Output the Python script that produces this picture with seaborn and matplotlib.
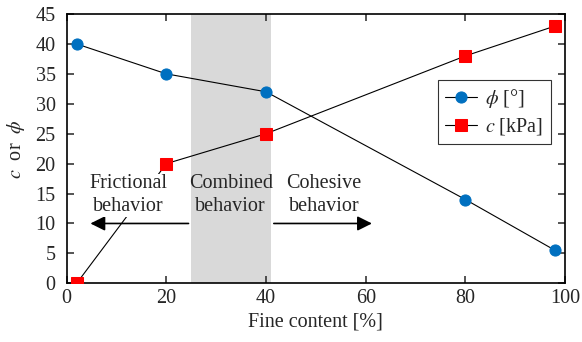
import matplotlib
matplotlib.use("Agg")
import matplotlib.pyplot as plt
import seaborn as sns
import pandas as pd

fine_content = [2, 20, 40, 80, 98]
phi_values = [40, 35, 32, 14, 5.5]
c_values = [0, 20, 25, 38, 43]
x_ticks = [0, 20, 40, 60, 80, 100]
y_ticks = [0, 5, 10, 15, 20, 25, 30, 35, 40, 45]
combined_range = [25, 41]

sns.set_style("ticks")
plt.rcParams['font.family'] = ['Liberation Serif', 'DejaVu Serif']
plt.rcParams['mathtext.fontset'] = 'stix'
plt.rcParams['font.size'] = 14.5

df = pd.DataFrame({"x": fine_content, "phi": phi_values, "c": c_values})

fig = plt.figure(figsize=(5.82, 3.42), dpi=100)
ax = fig.add_axes([0.1146, 0.1716, 0.971 - 0.1146, 0.959 - 0.1716])

ax.axvspan(combined_range[0], combined_range[1], color='#d9d9d9', lw=0, zorder=0)

sns.lineplot(data=df, x="x", y="phi", ax=ax, color='black', lw=0.8,
             marker='o', markersize=8, markerfacecolor='#0070C0', markeredgecolor='#0070C0',
             label=r'$\phi$ [°]', zorder=3)
sns.lineplot(data=df, x="x", y="c", ax=ax, color='black', lw=0.8,
             marker='s', markersize=8.5, markerfacecolor='#FF0000', markeredgecolor='#FF0000',
             label=r'$c$ [kPa]', zorder=3)

ax.set_xlim(0, 100)
ax.set_ylim(0, 45)
ax.set_xticks(x_ticks)
ax.set_yticks(y_ticks)
ax.tick_params(direction='in', top=True, right=True, length=5, width=1.1, labelsize=14.5)
ax.tick_params(axis='x', pad=4)
ax.tick_params(axis='y', pad=8)
for s in ax.spines.values():
    s.set_linewidth(1.2)
    s.set_color('black')
    s.set_visible(True)

ax.set_xlabel("Fine content [%]", fontsize=14.5, labelpad=3)
ax.set_ylabel(r"$c$  or  $\phi$", fontsize=14.5, labelpad=6)

ax.annotate("", xy=(4.2, 10), xytext=(combined_range[0], 10),
            arrowprops=dict(arrowstyle='-|>', color='black', lw=1.2, mutation_scale=22), zorder=2)
ax.annotate("", xy=(61.8, 10), xytext=(combined_range[1], 10),
            arrowprops=dict(arrowstyle='-|>', color='black', lw=1.2, mutation_scale=22), zorder=2)

ax.text(12.3, 14.7, "Frictional\nbehavior", ha='center', va='center', fontsize=14.5, linespacing=1.3,
        zorder=4, bbox=dict(facecolor='white', edgecolor='none', pad=0.5))
ax.text(32.9, 14.7, "Combined\nbehavior", ha='center', va='center', fontsize=14.5, linespacing=1.3, zorder=4)
ax.text(51.6, 14.7, "Cohesive\nbehavior", ha='center', va='center', fontsize=14.5, linespacing=1.3, zorder=4)

leg = ax.legend(loc='upper left', bbox_to_anchor=(0.745, 0.755), frameon=True, fancybox=False,
                edgecolor='black', fontsize=14.5, handlelength=1.6, handletextpad=0.4,
                borderpad=0.35, labelspacing=0.3, borderaxespad=0)
leg.get_frame().set_linewidth(0.8)

fig.savefig("out.png", dpi=100)
